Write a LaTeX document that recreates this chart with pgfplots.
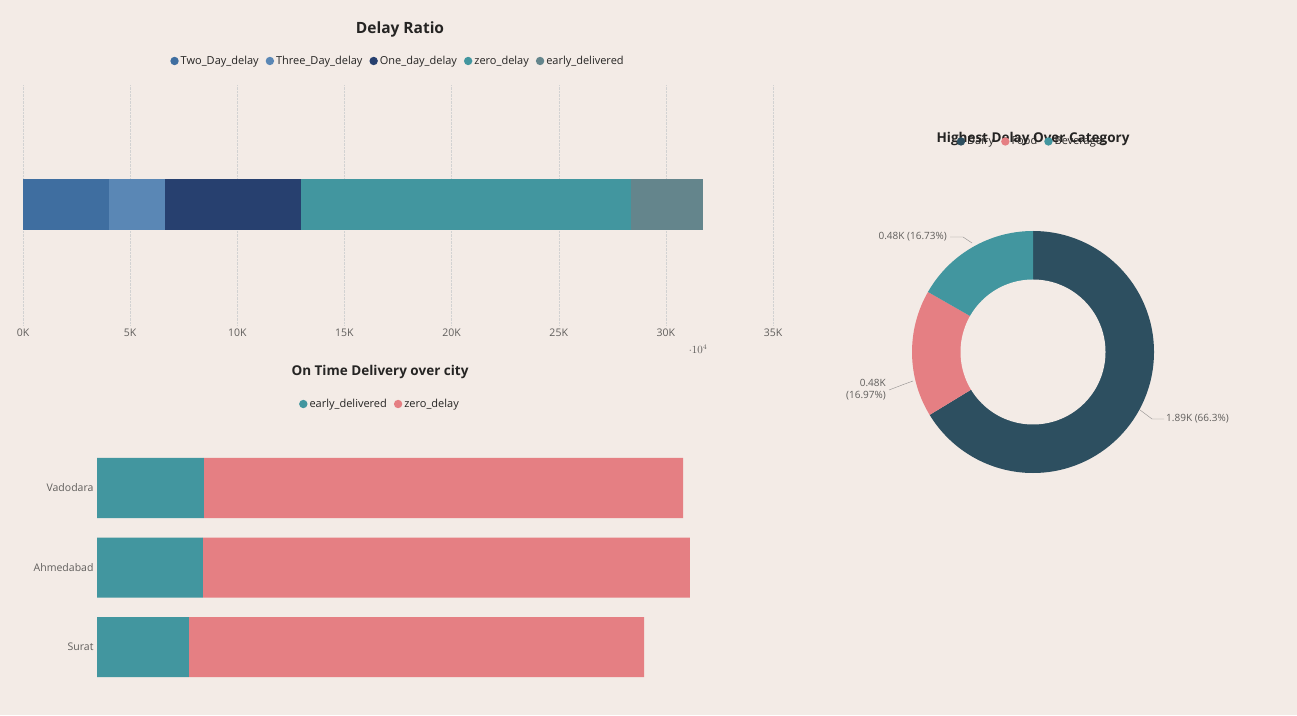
\documentclass[border=0pt]{standalone}
\usepackage{pgfplots}
\pgfplotsset{compat=1.18}
\usepackage{fontspec}
\setmainfont{Open Sans}
\definecolor{bg}{HTML}{F3EBE6}
\definecolor{cTwo}{HTML}{3F6EA0}
\definecolor{cThree}{HTML}{5A87B5}
\definecolor{cOne}{HTML}{27406F}
\definecolor{cZero}{HTML}{42969F}
\definecolor{cEarly}{HTML}{64858C}
\definecolor{cPink}{HTML}{E57F83}
\definecolor{cDairy}{HTML}{2D4F60}
\definecolor{tgray}{HTML}{605E5C}
\definecolor{tdark}{HTML}{252423}
\tikzset{wl/.style={text=white,font=\fontsize{10}{12}\selectfont}}
\pgfplotsset{
  mylegend/.style={draw=none,fill=none,legend columns=-1,font=\fontsize{11}{13}\selectfont,text=tdark,
    /tikz/every even column/.append style={column sep=5pt},inner sep=0pt}
}
\begin{document}
\begin{tikzpicture}[x=1pt,y=1pt]
\fill[bg] (0,0) rectangle (1297,715);
\node[font=\bfseries\fontsize{15.5}{18}\selectfont,text=tdark] at (400,686) {Delay Ratio};
\begin{axis}[at={(23pt,390pt)},anchor=south west,scale only axis,width=750pt,height=240pt,
  xmin=0,xmax=35000,ymin=0,ymax=1,axis line style={draw=none},major tick length=0pt,
  ytick=\empty,xtick={0,5000,...,35000},xticklabels={0K,5K,10K,15K,20K,25K,30K,35K},
  xticklabel style={font=\fontsize{10.5}{12}\selectfont,text=tgray},
  xmajorgrids,grid style={densely dotted,gray!35},
  xbar stacked,bar width=51pt,clip=false,
  legend image code/.code={\fill[#1,draw=none] (2pt,0pt) circle (4.2pt);},
  legend style={mylegend,at={(0.5,1.1)},anchor=center}]
\addplot[fill=cTwo,draw=none] coordinates {(4000,0.5)};
\addplot[fill=cThree,draw=none] coordinates {(2630,0.5)};
\addplot[fill=cOne,draw=none] coordinates {(6340,0.5)};
\addplot[fill=cZero,draw=none] coordinates {(15400,0.5)};
\addplot[fill=cEarly,draw=none] coordinates {(3360,0.5)};
\legend{Two\_Day\_delay,Three\_Day\_delay,One\_day\_delay,zero\_delay,early\_delivered}
\node[wl] at (axis cs:2000,0.5) {4.0K};
\node[wl] at (axis cs:5315,0.5) {2.6K};
\node[wl] at (axis cs:9800,0.5) {6.4K};
\node[wl] at (axis cs:20670,0.5) {15.4K};
\node[wl] at (axis cs:30050,0.5) {3.3K};
\end{axis}
\node[font=\bfseries\fontsize{13.5}{16}\selectfont,text=tdark] at (380,343) {On Time Delivery over city};
\begin{axis}[at={(97pt,28.25pt)},anchor=south west,scale only axis,width=676pt,height=238.5pt,
  xmin=0,xmax=7.348,ymin=-0.5,ymax=2.5,axis line style={draw=none},major tick length=0pt,
  xtick=\empty,ytick={0,1,2},yticklabels={Surat,Ahmedabad,Vadodara},
  yticklabel style={font=\fontsize{10.5}{12}\selectfont,text=tgray},
  xbar stacked,bar width=60pt,clip=false,
  legend image code/.code={\fill[#1,draw=none] (2pt,0pt) circle (4.2pt);},
  legend style={mylegend,at={(0.4186,1.1855)},anchor=center}]
\addplot[fill=cZero,draw=none] coordinates {(1.0,0) (1.152,1) (1.163,2)};
\addplot[fill=cPink,draw=none] coordinates {(4.946,0) (5.293,1) (5.207,2)};
\legend{early\_delivered,zero\_delay}
\node[wl,anchor=east] at (axis cs:0.94,0) {1.0K};
\node[wl,anchor=east] at (axis cs:1.09,1) {1.2K};
\node[wl,anchor=east] at (axis cs:1.10,2) {1.2K};
\node[wl] at (axis cs:3.473,0) {4.9K};
\node[wl] at (axis cs:3.80,1) {5.3K};
\node[wl] at (axis cs:3.77,2) {5.2K};
\end{axis}
\node[font=\bfseries\fontsize{13.5}{16}\selectfont,text=tdark] at (1033,576) {Highest Delay Over Category};
\begin{axis}[at={(912pt,242pt)},anchor=south west,scale only axis,width=242pt,height=242pt,
  xmin=-1,xmax=1,ymin=-1,ymax=1,hide axis,clip=false,
  legend image code/.code={\fill[#1,draw=none] (2pt,0pt) circle (4.2pt);},
  legend style={mylegend,at={(0.5,1.37)},anchor=center}]
\addlegendimage{fill=cDairy,draw=none}
\addlegendimage{fill=cPink,draw=none}
\addlegendimage{fill=cZero,draw=none}
\legend{Dairy,Food,Beverages}
\fill[cDairy] (axis cs:0,0) -- (axis cs:0,1) arc[start angle=90,end angle=-148.68,radius=121pt] -- cycle;
\fill[cPink] (axis cs:0,0) -- ++(-148.68:121pt) arc[start angle=-148.68,end angle=-209.77,radius=121pt] -- cycle;
\fill[cZero] (axis cs:0,0) -- ++(150.23:121pt) arc[start angle=150.23,end angle=90,radius=121pt] -- cycle;
\fill[bg] (axis cs:0,0) circle (72.5pt);
\end{axis}
\draw[tgray!70] (950,478) -- (963,478) -- (972,472);
\node[anchor=east,inner sep=1pt,text=tgray,font=\fontsize{10}{12}\selectfont] at (948,478) {0.48K (16.73\%)};
\draw[tgray!70] (889,325) -- (902,330) -- (913,334);
\node[anchor=east,align=right,inner sep=1pt,text=tgray,font=\fontsize{10}{12}\selectfont] at (887,325) {0.48K\\(16.97\%)};
\draw[tgray!70] (1140,305) -- (1152,296) -- (1164,296);
\node[anchor=west,inner sep=1pt,text=tgray,font=\fontsize{10}{12}\selectfont] at (1165,296) {1.89K (66.3\%)};
\pgfresetboundingbox
\useasboundingbox (0,0) rectangle (1297,715);
\end{tikzpicture}
\end{document}
